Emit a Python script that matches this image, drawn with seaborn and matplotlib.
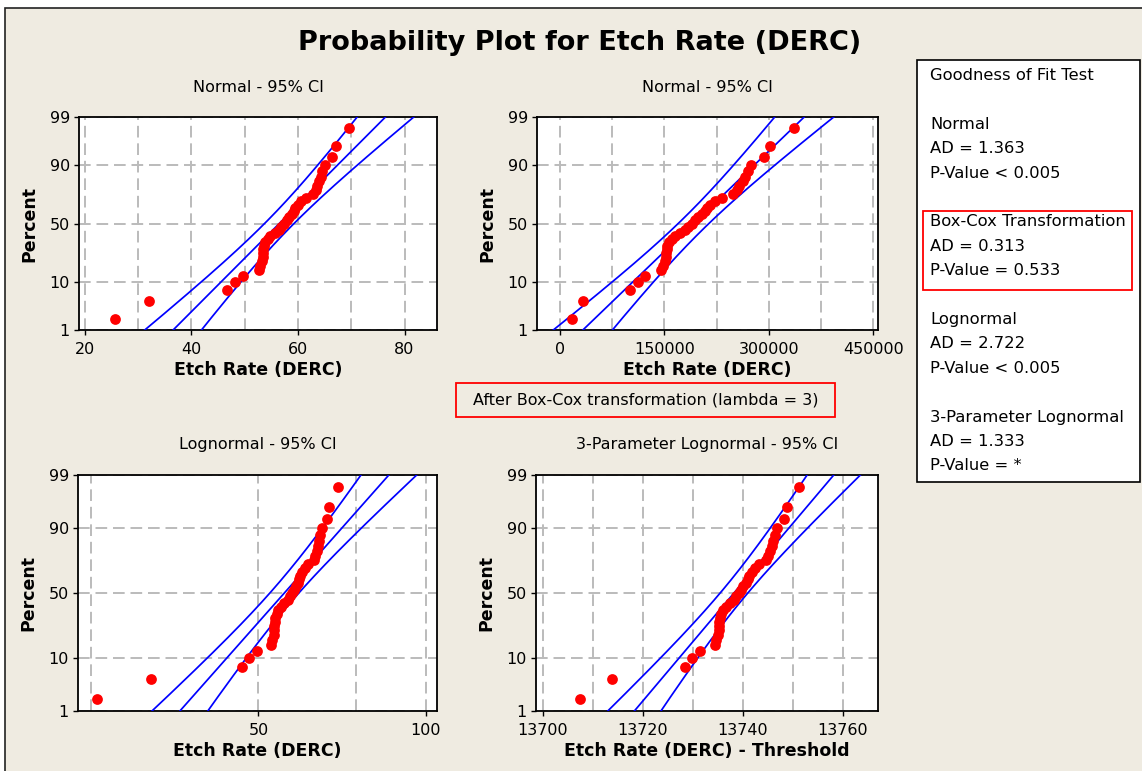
import math
from statistics import NormalDist

import numpy as np
import matplotlib
matplotlib.use("Agg")
import matplotlib.pyplot as plt
from matplotlib.patches import Rectangle
from matplotlib.ticker import FixedLocator, FixedFormatter, NullFormatter
import seaborn as sns

# ------------------------------------------------------------------ data
etch_rate = [25.6, 32.0, 46.6, 48.1, 49.6, 52.6, 52.9, 53.3, 53.4, 53.4,
             53.5, 53.6, 53.9, 54.3, 54.8, 55.6, 56.4, 56.9, 57.4, 57.9,
             58.3, 58.8, 59.2, 59.5, 60.0, 60.6, 61.5, 62.9, 63.3, 63.6,
             64.0, 64.3, 64.6, 65.0, 66.4, 67.1, 69.5]
boxcox_lambda = 3
threshold = -13681.7          # 3-parameter lognormal threshold

percent_ticks = [1, 10, 50, 90, 99]
percent_labels = ["1", "10", "50", "90", "99"]

panel_titles = ["Normal - 95% CI", "Normal - 95% CI",
                "Lognormal - 95% CI", "3-Parameter Lognormal - 95% CI"]
panel_xlabels = ["Etch Rate (DERC)", "Etch Rate (DERC)",
                 "Etch Rate (DERC)", "Etch Rate (DERC) - Threshold"]

p1_ticks = [20, 40, 60, 80]
p1_minor = [30, 50, 70]
p2_ticks = [0, 150000, 300000, 450000]
p2_minor = [75000, 225000, 375000]
p3_ticks = [50, 100]
p3_minor = [25, 75]
p4_ticks = [13700, 13720, 13740, 13760]
p4_minor = [13710, 13730, 13750]

gof_lines = ["Goodness of Fit Test", "",
             "Normal", "AD = 1.363", "P-Value < 0.005", "",
             "Box-Cox Transformation", "AD = 0.313", "P-Value = 0.533", "",
             "Lognormal", "AD = 2.722", "P-Value < 0.005", "",
             "3-Parameter Lognormal", "AD = 1.333", "P-Value = *"]

main_title = "Probability Plot for Etch Rate (DERC)"
boxcox_note = "After Box-Cox transformation (lambda = 3)"

# ------------------------------------------------------------------ style
sns.set_theme(style="white")
plt.rcParams["font.family"] = ["DejaVu Sans"]
plt.rcParams["axes.linewidth"] = 1.3
plt.rcParams["text.color"] = "black"
plt.rcParams["axes.labelcolor"] = "black"
plt.rcParams["xtick.color"] = "black"
plt.rcParams["ytick.color"] = "black"

BG = "#EFEBE1"
RED = "#FF0000"
BLUE = "#0000FF"
GRID = "#BBBBBB"

W, H, DPI = 1142, 771, 100
fig = plt.figure(figsize=(W / DPI, H / DPI), dpi=DPI, facecolor="white")


def fx(x):
    return x / W


def fy(y):
    return 1 - y / H


# outer beige frame
fig.patches.append(Rectangle((fx(4.5), fy(790)), fx(1160) - fx(4.5), fy(8) - fy(790),
                             transform=fig.transFigure, facecolor=BG,
                             edgecolor="#222222", lw=1.2, zorder=-10))

# ------------------------------------------------------------------ probability scale
ND = NormalDist()
_ppf = np.vectorize(lambda p: ND.inv_cdf(min(max(p / 100.0, 1e-9), 1 - 1e-9)), otypes=[float])
_cdf = np.vectorize(lambda z: 100.0 * ND.cdf(z), otypes=[float])


def fwd(p):
    return _ppf(np.asarray(p, dtype=float))


def inv(z):
    return _cdf(np.asarray(z, dtype=float))


n = len(etch_rate)
ranks = np.arange(1, n + 1)
plot_pct = 100.0 * (ranks - 0.3) / (n + 0.4)       # median ranks
pct_grid = np.linspace(0.4, 99.6, 300)
z_grid = fwd(pct_grid)


def normal_band(values):
    v = np.asarray(values, dtype=float)
    m = v.size
    mu, s = v.mean(), v.std()
    xp = mu + z_grid * s
    se = s * np.sqrt(1.0 / m + z_grid ** 2 / (2.0 * m))
    return xp, xp - 1.96 * se, xp + 1.96 * se


x_sorted = np.sort(np.asarray(etch_rate, dtype=float))

panels = [
    dict(box=(79, 117, 437, 330), x=x_sorted, curves=normal_band(x_sorted),
         xlim=(18.9, 86.1), ticks=p1_ticks, minor=p1_minor, log=False,
         labels=[str(t) for t in p1_ticks]),
    dict(box=(537, 117, 878, 330), x=x_sorted ** boxcox_lambda,
         curves=normal_band(x_sorted ** boxcox_lambda),
         xlim=(-33000, 456500), ticks=p2_ticks, minor=p2_minor, log=False,
         labels=[str(t) for t in p2_ticks]),
    dict(box=(78, 475, 437, 711), x=x_sorted,
         curves=tuple(np.exp(c) for c in normal_band(np.log(x_sorted))),
         xlim=(23.66, 104.8), ticks=p3_ticks, minor=p3_minor, log=True,
         labels=[str(t) for t in p3_ticks]),
    dict(box=(536, 475, 878, 711), x=x_sorted - threshold,
         curves=tuple(np.exp(c) for c in normal_band(np.log(x_sorted - threshold))),
         xlim=(13698.6, 13767), ticks=p4_ticks, minor=p4_minor, log=False,
         labels=[str(t) for t in p4_ticks]),
]

for i, P in enumerate(panels):
    l, t, r, b = P["box"]
    ax = fig.add_axes([fx(l), fy(b), fx(r) - fx(l), fy(t) - fy(b)])
    ax.set_facecolor("white")
    ax.set_yscale("function", functions=(fwd, inv))
    if P["log"]:
        ax.set_xscale("log")

    for c in P["curves"]:
        sns.lineplot(x=c, y=pct_grid, ax=ax, color=BLUE, lw=1.25,
                     estimator=None, sort=False, zorder=3)
    sns.scatterplot(x=P["x"], y=plot_pct, ax=ax, color=RED, s=60,
                    linewidth=0, zorder=4)

    ax.set_ylim(1, 99)
    ax.set_xlim(*P["xlim"])
    ax.yaxis.set_major_locator(FixedLocator(percent_ticks))
    ax.yaxis.set_major_formatter(FixedFormatter(percent_labels))
    ax.yaxis.set_minor_locator(FixedLocator([]))
    ax.xaxis.set_major_locator(FixedLocator(P["ticks"]))
    ax.xaxis.set_major_formatter(FixedFormatter(P["labels"]))
    ax.xaxis.set_minor_locator(FixedLocator(P["minor"]))
    ax.xaxis.set_minor_formatter(NullFormatter())

    ax.grid(True, which="both", axis="x", color=GRID, lw=1.4, ls=(0, (6, 3)), zorder=1)
    ax.grid(True, which="major", axis="y", color=GRID, lw=1.4, ls=(0, (6, 3)), zorder=1)
    ax.set_axisbelow(True)

    ax.tick_params(axis="both", which="major", direction="out", length=3.5,
                   width=1.0, color="black", labelsize=11.5, pad=3,
                   bottom=True, left=True, labelcolor="black")
    ax.tick_params(axis="x", which="major", pad=5)
    ax.tick_params(axis="both", which="minor", length=0)
    for sp in ax.spines.values():
        sp.set_color("black")
        sp.set_linewidth(1.3)

    ax.set_xlabel(panel_xlabels[i], fontsize=12.5, fontweight="bold", labelpad=3,
                  color="black")
    ax.set_ylabel("Percent", fontsize=12.5, fontweight="bold", labelpad=8,
                  color="black")
    cx = (l + r) / 2
    fig.text(fx(cx), fy(t - 30), panel_titles[i], ha="center", va="center",
             fontsize=11.5, color="black")

# ------------------------------------------------------------------ title and annotations
fig.text(fx(580), fy(43), main_title, ha="center", va="center",
         fontsize=19.5, fontweight="bold", color="black")

fig.patches.append(Rectangle((fx(456), fy(417)), fx(835) - fx(456), fy(383) - fy(417),
                             transform=fig.transFigure, facecolor="none",
                             edgecolor=RED, lw=1.3))
fig.text(fx(646), fy(400), boxcox_note, ha="center", va="center",
         fontsize=11.5, color="black")

# goodness-of-fit panel
fig.patches.append(Rectangle((fx(917), fy(482)), fx(1140) - fx(917), fy(60) - fy(482),
                             transform=fig.transFigure, facecolor="white",
                             edgecolor="black", lw=1.2))
fig.patches.append(Rectangle((fx(923), fy(290)), fx(1132) - fx(923), fy(211) - fy(290),
                             transform=fig.transFigure, facecolor="none",
                             edgecolor=RED, lw=1.3))
line_y0, line_dy = 75.5, 24.4
for k, txt in enumerate(gof_lines):
    if txt:
        fig.text(fx(930), fy(line_y0 + k * line_dy), txt, ha="left", va="center",
                 fontsize=11.8, color="black")

fig.savefig("out.png", dpi=DPI, facecolor=fig.get_facecolor())
